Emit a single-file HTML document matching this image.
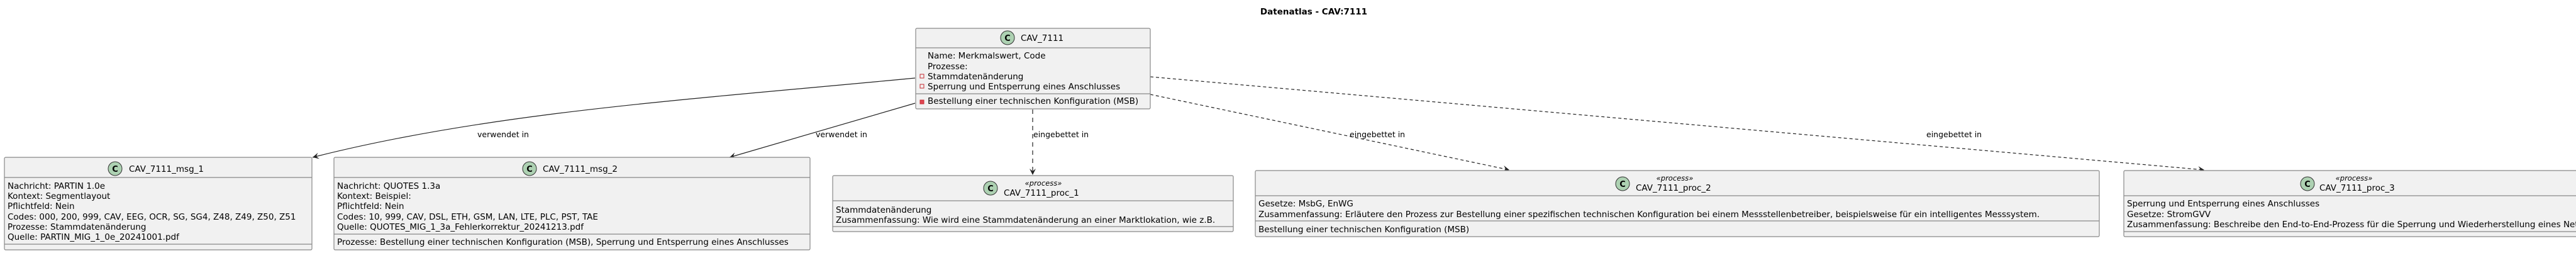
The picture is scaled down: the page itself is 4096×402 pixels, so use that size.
<!DOCTYPE html>
<html><head><meta charset="utf-8"><style>
html,body{margin:0;padding:0;background:#fff;}
svg{display:block;font-family:"DejaVu Sans","Liberation Sans",sans-serif;}
.t{font-size:13.5px;fill:#000;}
.lbl{font-size:12.5px;fill:#000;}
.st{font-size:11.5px;font-style:italic;fill:#000;}
.box{fill:#f1f1f1;stroke:#888;stroke-width:1.2;}
.dv{stroke:#888;stroke-width:1.2;}
.cc{fill:#add1b2;stroke:#333;stroke-width:1;}
.ct{font-size:13px;font-weight:bold;fill:#000;}
</style></head><body>
<svg width="4096" height="402" viewBox="0 0 4096 402" xmlns="http://www.w3.org/2000/svg">
<defs>
<marker id="ah" markerWidth="12" markerHeight="10" refX="10" refY="5" orient="auto" markerUnits="userSpaceOnUse">
<path d="M0,0 L10,5 L0,10 L4,5 Z" fill="#222"/>
</marker>
</defs>
<text x="2089" y="23" text-anchor="middle" style="font-size:13.5px;font-weight:bold">Datenatlas - CAV:7111</text>

<!-- connectors -->
<path d="M1455,124 C1100,158 780,178 497,250" fill="none" stroke="#222" stroke-width="1.2" marker-end="url(#ah)"/>
<path d="M1455,164 L1160,250" fill="none" stroke="#222" stroke-width="1.2" marker-end="url(#ah)"/>
<path d="M1642,174 L1642,278" fill="none" stroke="#222" stroke-width="1.2" stroke-dasharray="7,6" marker-end="url(#ah)"/>
<path d="M1829,150 L2400,270" fill="none" stroke="#222" stroke-width="1.2" stroke-dasharray="5,4" marker-end="url(#ah)"/>
<path d="M1829,122 L3505,270" fill="none" stroke="#222" stroke-width="1.2" stroke-dasharray="5,4" marker-end="url(#ah)"/>
<text class="lbl" x="759" y="218">verwendet in</text>
<text class="lbl" x="1297" y="218">verwendet in</text>
<text class="lbl" x="1643" y="218">eingebettet in</text>
<text class="lbl" x="2146" y="218">eingebettet in</text>
<text class="lbl" x="3063" y="218">eingebettet in</text>

<!-- main -->
<rect class="box" x="1456" y="45" width="373" height="128" rx="2"/>
<line class="dv" x1="1456" y1="76" x2="1829" y2="76"/>
<line class="dv" x1="1456" y1="149" x2="1829" y2="149"/>
<circle class="cc" cx="1602" cy="60" r="11"/><text class="ct" x="1602" y="65" text-anchor="middle">C</text>
<text class="t" x="1623" y="65">CAV_7111</text>
<text class="t" x="1475" y="93">Name: Merkmalswert, Code</text>
<text class="t" x="1475" y="110">Prozesse:</text>
<rect x="1463" y="118" width="6" height="6" fill="none" stroke="#c82930"/>
<text class="t" x="1475" y="126">Stammdatenänderung</text>
<rect x="1463" y="134" width="6" height="6" fill="none" stroke="#c82930"/>
<text class="t" x="1475" y="142">Sperrung und Entsperrung eines Anschlusses</text>
<rect x="1463" y="159" width="6" height="6" fill="#e04552" stroke="#c82930"/>
<text class="t" x="1475" y="165">Bestellung einer technischen Konfiguration (MSB)</text>

<!-- msg_1 -->
<rect class="box" x="7" y="250" width="489" height="147" rx="2"/>
<line class="dv" x1="7" y1="282" x2="496" y2="282"/>
<line class="dv" x1="7" y1="388" x2="496" y2="388"/>
<circle class="cc" cx="183" cy="268" r="11"/><text class="ct" x="183" y="273" text-anchor="middle">C</text>
<text class="t" x="205" y="273">CAV_7111_msg_1</text>
<text class="t" x="12" y="300">Nachricht: PARTIN 1.0e</text>
<text class="t" x="12" y="316">Kontext: Segmentlayout</text>
<text class="t" x="12" y="332">Pflichtfeld: Nein</text>
<text class="t" x="12" y="349">Codes: 000, 200, 999, CAV, EEG, OCR, SG, SG4, Z48, Z49, Z50, Z51</text>
<text class="t" x="12" y="365">Prozesse: Stammdatenänderung</text>
<text class="t" x="12" y="381">Quelle: PARTIN_MIG_1_0e_20241001.pdf</text>

<!-- msg_2 -->
<rect class="box" x="531" y="250" width="757" height="147" rx="2"/>
<line class="dv" x1="531" y1="282" x2="1288" y2="282"/>
<line class="dv" x1="531" y1="372" x2="1288" y2="372"/>
<circle class="cc" cx="842" cy="268" r="11"/><text class="ct" x="842" y="273" text-anchor="middle">C</text>
<text class="t" x="863" y="273">CAV_7111_msg_2</text>
<text class="t" x="536" y="300">Nachricht: QUOTES 1.3a</text>
<text class="t" x="536" y="316">Kontext: Beispiel:</text>
<text class="t" x="536" y="332">Pflichtfeld: Nein</text>
<text class="t" x="536" y="349">Codes: 10, 999, CAV, DSL, ETH, GSM, LAN, LTE, PLC, PST, TAE</text>
<text class="t" x="536" y="365">Quelle: QUOTES_MIG_1_3a_Fehlerkorrektur_20241213.pdf</text>
<text class="t" x="536" y="389">Prozesse: Bestellung einer technischen Konfiguration (MSB), Sperrung und Entsperrung eines Anschlusses</text>

<!-- proc_1 -->
<rect class="box" x="1324" y="279" width="637" height="89" rx="2"/>
<line class="dv" x1="1324" y1="319" x2="1961" y2="319"/>
<line class="dv" x1="1324" y1="360" x2="1961" y2="360"/>
<circle class="cc" cx="1575" cy="299" r="11"/><text class="ct" x="1575" y="304" text-anchor="middle">C</text>
<text class="st" x="1659" y="295" text-anchor="middle">«process»</text>
<text class="t" x="1596" y="311">CAV_7111_proc_1</text>
<text class="t" x="1329" y="338">Stammdatenänderung</text>
<text class="t" x="1329" y="354">Zusammenfassung: Wie wird eine Stammdatenänderung an einer Marktlokation, wie z.B.</text>

<!-- proc_2 -->
<rect class="box" x="1996" y="271" width="1342" height="105" rx="2"/>
<line class="dv" x1="1996" y1="311" x2="3338" y2="311"/>
<line class="dv" x1="1996" y1="351" x2="3338" y2="351"/>
<circle class="cc" cx="2580" cy="292" r="11"/><text class="ct" x="2580" y="297" text-anchor="middle">C</text>
<text class="st" x="2663" y="287" text-anchor="middle">«process»</text>
<text class="t" x="2601" y="303">CAV_7111_proc_2</text>
<text class="t" x="2001" y="328">Gesetze: MsbG, EnWG</text>
<text class="t" x="2001" y="345">Zusammenfassung: Erläutere den Prozess zur Bestellung einer spezifischen technischen Konfiguration bei einem Messstellenbetreiber, beispielsweise für ein intelligentes Messsystem.</text>
<text class="t" x="2001" y="369">Bestellung einer technischen Konfiguration (MSB)</text>

<!-- proc_3 -->
<rect class="box" x="3377" y="271" width="900" height="105" rx="2"/>
<line class="dv" x1="3377" y1="311" x2="4096" y2="311"/>
<line class="dv" x1="3377" y1="368" x2="4096" y2="368"/>
<circle class="cc" cx="3669" cy="292" r="11"/><text class="ct" x="3669" y="297" text-anchor="middle">C</text>
<text class="st" x="3743" y="287" text-anchor="middle">«process»</text>
<text class="t" x="3688" y="303">CAV_7111_proc_3</text>
<text class="t" x="3382" y="328">Sperrung und Entsperrung eines Anschlusses</text>
<text class="t" x="3382" y="345">Gesetze: StromGVV</text>
<text class="t" x="3382" y="361">Zusammenfassung: Beschreibe den End-to-End-Prozess für die Sperrung und Wiederherstellung eines Netzanschlusses.</text>
</svg>
</body></html>
